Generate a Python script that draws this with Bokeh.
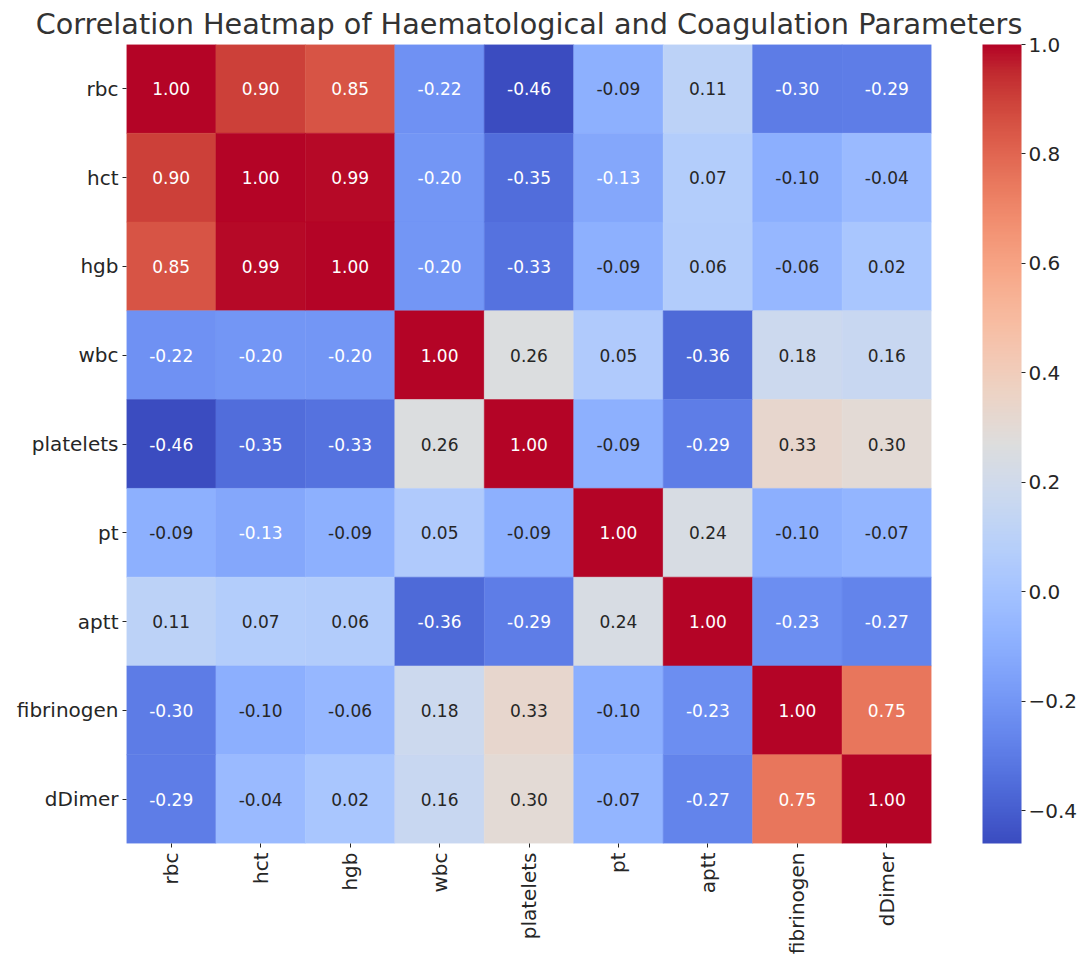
import math
from bokeh.plotting import figure
from bokeh.models import (ColumnDataSource, LinearColorMapper, ColorBar, FixedTicker,
                          CustomJSTickFormatter, FactorRange)
from bokeh.transform import transform
from bokeh.core.properties import value
from bokeh.embed import file_html
from bokeh.resources import INLINE

# ---------------- data ----------------
labels = ["rbc", "hct", "hgb", "wbc", "platelets", "pt", "aptt", "fibrinogen", "dDimer"]
rbc        = [1.00, 0.90, 0.85, -0.22, -0.46, -0.09, 0.11, -0.30, -0.29]
hct        = [0.90, 1.00, 0.99, -0.20, -0.35, -0.13, 0.07, -0.10, -0.04]
hgb        = [0.85, 0.99, 1.00, -0.20, -0.33, -0.09, 0.06, -0.06, 0.02]
wbc        = [-0.22, -0.20, -0.20, 1.00, 0.26, 0.05, -0.36, 0.18, 0.16]
platelets  = [-0.46, -0.35, -0.33, 0.26, 1.00, -0.09, -0.29, 0.33, 0.30]
pt         = [-0.09, -0.13, -0.09, 0.05, -0.09, 1.00, 0.24, -0.10, -0.07]
aptt       = [0.11, 0.07, 0.06, -0.36, -0.29, 0.24, 1.00, -0.23, -0.27]
fibrinogen = [-0.30, -0.10, -0.06, 0.18, 0.33, -0.10, -0.23, 1.00, 0.75]
dDimer     = [-0.29, -0.04, 0.02, 0.16, 0.30, -0.07, -0.27, 0.75, 1.00]
rows = [rbc, hct, hgb, wbc, platelets, pt, aptt, fibrinogen, dDimer]
cbar_ticks = [-0.4, -0.2, 0.0, 0.2, 0.4, 0.6, 0.8, 1.0]

# ---------------- coolwarm palette ----------------
_cw = [(59, 76, 192), (68, 90, 204), (77, 104, 215), (87, 117, 225), (98, 130, 234),
       (108, 142, 241), (119, 154, 247), (130, 165, 251), (141, 176, 254), (152, 185, 255),
       (163, 194, 255), (174, 201, 253), (184, 208, 249), (194, 213, 244), (204, 217, 238),
       (213, 219, 230), (221, 221, 221), (229, 216, 209), (236, 211, 197), (241, 204, 185),
       (245, 196, 173), (247, 187, 160), (247, 177, 148), (247, 166, 135), (244, 154, 123),
       (241, 141, 111), (236, 127, 99), (229, 112, 88), (222, 96, 77), (213, 80, 66),
       (203, 62, 56), (192, 40, 47), (180, 4, 38)]
N = 256
palette_rgb = []
for i in range(N):
    t = i / (N - 1) * (len(_cw) - 1)
    k = min(int(t), len(_cw) - 2)
    f = t - k
    c = tuple(round(_cw[k][j] + (_cw[k + 1][j] - _cw[k][j]) * f) for j in range(3))
    palette_rgb.append(c)
palette = ["#%02x%02x%02x" % c for c in palette_rgb]

vals = [v for r in rows for v in r]
low, high = min(vals), max(vals)
mapper = LinearColorMapper(palette=palette, low=low, high=high)


def lum(c):
    out = []
    for ch in c:
        ch = ch / 255
        out.append(ch / 12.92 if ch <= 0.03928 else ((ch + 0.055) / 1.055) ** 2.4)
    return 0.2126 * out[0] + 0.7152 * out[1] + 0.0722 * out[2]


xs, ys, vs, txt, tcol = [], [], [], [], []
for rname, r in zip(labels, rows):
    for cname, v in zip(labels, r):
        xs.append(cname)
        ys.append(rname)
        vs.append(v)
        txt.append("%.2f" % v)
        idx = int((v - low) / (high - low) * N)
        idx = max(0, min(N - 1, idx))
        tcol.append("#262626" if lum(palette_rgb[idx]) > 0.408 else "#ffffff")

src = ColumnDataSource(dict(x=xs, y=ys, v=vs, t=txt, tc=tcol))

FONT = "DejaVu Sans"
p = figure(x_range=FactorRange(*labels), y_range=FactorRange(*reversed(labels)),
           frame_width=805, frame_height=799,
           min_border_left=126, min_border_right=147, min_border_top=44, min_border_bottom=0,
           output_backend="svg", toolbar_location=None,
           title="Correlation Heatmap of Haematological and Coagulation Parameters")

p.rect(x="x", y="y", width=1, height=1, source=src,
       fill_color=transform("v", mapper), line_color=transform("v", mapper), line_width=0.5)
p.text(x="x", y="y", text="t", source=src, text_color="tc", text_align="center",
       text_baseline="middle", text_font=value(FONT), text_font_size="17px")

p.title.text_font = FONT
p.title.text_font_size = "28.7px"
p.title.text_font_style = "normal"
p.title.text_color = "#333333"
p.title.align = "center"
p.title.standoff = 8

for ax in (p.xaxis, p.yaxis):
    ax.axis_line_color = None
    ax.major_tick_in = 0
    ax.major_tick_out = 4
    ax.major_tick_line_color = "#262626"
    ax.minor_tick_line_color = None
    ax.major_label_text_font = FONT
    ax.major_label_text_font_size = "20px"
    ax.major_label_text_color = "#262626"
p.xaxis.major_label_orientation = math.pi / 2
p.xaxis.major_label_standoff = 5
p.yaxis.major_label_standoff = 4

p.grid.visible = False
p.outline_line_color = None
p.background_fill_color = "white"
p.border_fill_color = "white"

cb = ColorBar(color_mapper=mapper, location=(856, 0), width=39, height=799,
              padding=0, margin=0,
              ticker=FixedTicker(ticks=cbar_ticks),
              formatter=CustomJSTickFormatter(code="return (tick < -1e-9 ? '\\u2212' : '') + Math.abs(tick).toFixed(1);"),
              major_label_text_font=FONT, major_label_text_font_size="20px",
              major_label_text_color="#262626",
              major_tick_in=0, major_tick_out=4, major_tick_line_color="#262626",
              minor_tick_line_color=None,
              bar_line_color=None, border_line_color=None, background_fill_alpha=0,
              label_standoff=3)
p.add_layout(cb)

open("out.html", "w").write(file_html(p, INLINE))
